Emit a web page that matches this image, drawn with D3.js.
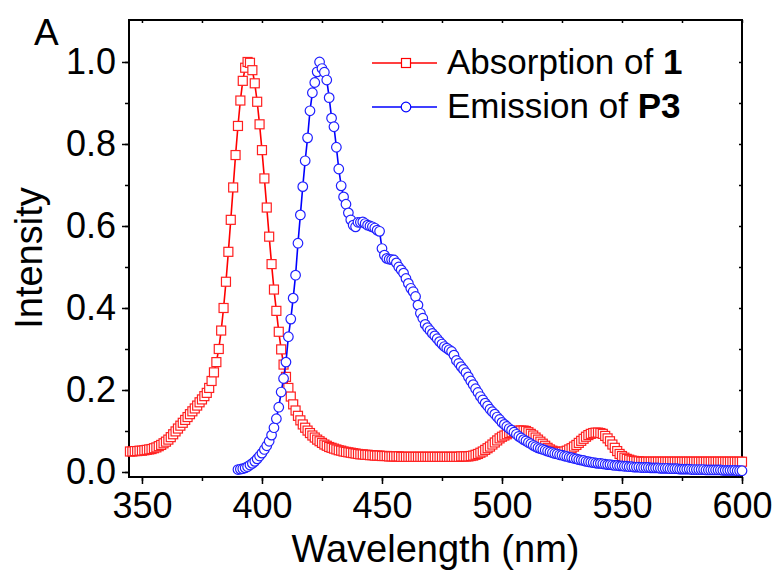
<!doctype html>
<html lang="en">
<head>
<meta charset="utf-8">
<title>Absorption / Emission</title>
<script src="https://cdn.jsdelivr.net/npm/d3@7"></script>
<style>
  body { margin: 0; background: #fff; }
  text { font-family: "Liberation Sans", Arial, sans-serif; }
</style>
</head>
<body>
<div id="chart"></div>
<script>
// absorption of 1, one point per nm from 345 nm
var absStart = 345;
var absValues = [
  0.050, 0.050, 0.051, 0.051, 0.052, 0.052, 0.053, 0.054, 0.055, 0.056, // 345-354
  0.058, 0.060, 0.063, 0.066, 0.070, 0.074, 0.079, 0.085, 0.092, 0.099, // 355-364
  0.106, 0.113, 0.120, 0.127, 0.134, 0.141, 0.148, 0.155, 0.162, 0.170, // 365-374
  0.177, 0.185, 0.193, 0.205, 0.222, 0.243, 0.268, 0.300, 0.345, 0.400, // 375-384
  0.464, 0.537, 0.615, 0.694, 0.773, 0.844, 0.906, 0.954, 0.986, 1.000, // 385-394
  0.998, 0.980, 0.948, 0.903, 0.848, 0.785, 0.716, 0.645, 0.574, 0.507, // 395-404
  0.445, 0.393, 0.342, 0.299, 0.262, 0.232, 0.205, 0.184, 0.165, 0.150, // 405-414
  0.137, 0.126, 0.116, 0.108, 0.101, 0.095, 0.089, 0.084, 0.079, 0.075, // 415-424
  0.071, 0.067, 0.064, 0.061, 0.059, 0.057, 0.055, 0.053, 0.052, 0.050, // 425-434
  0.049, 0.048, 0.047, 0.046, 0.045, 0.044, 0.043, 0.043, 0.042, 0.042, // 435-444
  0.041, 0.041, 0.040, 0.040, 0.040, 0.039, 0.039, 0.039, 0.038, 0.038, // 445-454
  0.038, 0.038, 0.038, 0.037, 0.037, 0.037, 0.037, 0.037, 0.037, 0.037, // 455-464
  0.037, 0.037, 0.037, 0.037, 0.037, 0.037, 0.037, 0.037, 0.037, 0.037, // 465-474
  0.037, 0.037, 0.037, 0.037, 0.037, 0.037, 0.037, 0.037, 0.038, 0.038, // 475-484
  0.038, 0.038, 0.039, 0.040, 0.042, 0.044, 0.047, 0.050, 0.054, 0.058, // 485-494
  0.062, 0.067, 0.072, 0.077, 0.082, 0.086, 0.089, 0.092, 0.095, 0.097, // 495-504
  0.099, 0.100, 0.101, 0.101, 0.101, 0.100, 0.097, 0.093, 0.089, 0.084, // 505-514
  0.079, 0.074, 0.069, 0.064, 0.059, 0.055, 0.052, 0.050, 0.049, 0.048, // 515-524
  0.049, 0.050, 0.052, 0.055, 0.058, 0.062, 0.066, 0.071, 0.076, 0.081, // 525-534
  0.086, 0.090, 0.093, 0.095, 0.096, 0.096, 0.095, 0.093, 0.088, 0.082, // 535-544
  0.075, 0.067, 0.059, 0.051, 0.044, 0.039, 0.035, 0.032, 0.030, 0.028, // 545-554
  0.027, 0.026, 0.026, 0.025, 0.025, 0.025, 0.025, 0.025, 0.025, 0.025, // 555-564
  0.025, 0.025, 0.025, 0.025, 0.025, 0.025, 0.025, 0.025, 0.025, 0.025, // 565-574
  0.025, 0.025, 0.025, 0.025, 0.025, 0.025, 0.025, 0.025, 0.025, 0.025, // 575-584
  0.025, 0.025, 0.025, 0.025, 0.025, 0.025, 0.025, 0.025, 0.025, 0.025, // 585-594
  0.025, 0.025, 0.025, 0.025, 0.025, 0.025                              // 595-600
];

// emission of P3, one point per nm from 390 nm
var emStart = 390;
var emValues = [
  0.006, 0.007, 0.008, 0.010, 0.013, 0.017, 0.021, 0.026, 0.032, 0.039, // 390-399
  0.046, 0.055, 0.064, 0.075, 0.090, 0.108, 0.130, 0.158, 0.195, 0.228, // 400-409
  0.268, 0.330, 0.373, 0.424, 0.480, 0.558, 0.627, 0.696, 0.759, 0.815, // 410-419
  0.881, 0.925, 0.950, 0.976, 1.000, 0.984, 0.975, 0.956, 0.913, 0.863, // 420-429
  0.842, 0.792, 0.739, 0.698, 0.671, 0.653, 0.632, 0.615, 0.602, 0.598, // 430-439
  0.609, 0.609, 0.610, 0.606, 0.602, 0.600, 0.598, 0.595, 0.590, 0.587, // 440-449
  0.545, 0.529, 0.521, 0.519, 0.518, 0.517, 0.510, 0.500, 0.493, 0.485, // 450-459
  0.472, 0.460, 0.448, 0.440, 0.428, 0.407, 0.387, 0.375, 0.360, 0.352, // 460-469
  0.345, 0.338, 0.332, 0.325, 0.318, 0.312, 0.306, 0.302, 0.298, 0.294, // 470-479
  0.285, 0.272, 0.265, 0.257, 0.250, 0.242, 0.232, 0.222, 0.213, 0.203, // 480-489
  0.194, 0.184, 0.176, 0.168, 0.161, 0.153, 0.147, 0.141, 0.134, 0.128, // 490-499
  0.121, 0.116, 0.111, 0.106, 0.102, 0.097, 0.092, 0.087, 0.083, 0.079, // 500-509
  0.076, 0.072, 0.069, 0.065, 0.062, 0.059, 0.057, 0.055, 0.053, 0.051, // 510-519
  0.049, 0.047, 0.045, 0.044, 0.042, 0.041, 0.039, 0.038, 0.036, 0.035, // 520-529
  0.033, 0.032, 0.030, 0.029, 0.028, 0.026, 0.025, 0.024, 0.023, 0.022, // 530-539
  0.021, 0.021, 0.020, 0.019, 0.018, 0.018, 0.017, 0.016, 0.016, 0.015, // 540-549
  0.015, 0.014, 0.014, 0.013, 0.013, 0.012, 0.012, 0.012, 0.011, 0.011, // 550-559
  0.011, 0.011, 0.010, 0.010, 0.010, 0.010, 0.009, 0.009, 0.009, 0.009, // 560-569
  0.008, 0.008, 0.008, 0.008, 0.007, 0.007, 0.007, 0.007, 0.007, 0.006, // 570-579
  0.006, 0.006, 0.006, 0.006, 0.006, 0.005, 0.005, 0.005, 0.005, 0.005, // 580-589
  0.005, 0.005, 0.004, 0.004, 0.004, 0.004, 0.004, 0.004, 0.003, 0.003, // 590-599
  0.003                                                                 // 600
];

var xTicks = [350, 400, 450, 500, 550, 600];
var yTicks = [0.0, 0.2, 0.4, 0.6, 0.8, 1.0];
var legendNames = [["Absorption of ", "1"], ["Emission of ", "P3"]];

var width = 778, height = 577;
var mLeft = 129, mRight = 742, mTop = 20, mBottom = 477;

var svg = d3.select("#chart").append("svg")
    .attr("width", width)
    .attr("height", height);

var x = d3.scaleLinear().domain([344.6, 600]).range([mLeft, mRight]);
var y = d3.scaleLinear().domain([-0.0122, 1.1024]).range([mBottom, mTop]);

var absData = absValues.map(function (v, i) { return { wl: absStart + i, v: v }; });
var emData = emValues.map(function (v, i) { return { wl: emStart + i, v: v }; });

var xMinor = d3.range(350, 601, 25);
var yMinor = d3.range(0, 1.05, 0.1);

// ticks: bottom/left outward, top/right inward
svg.append("g")
    .attr("transform", "translate(0," + mBottom + ")")
    .call(d3.axisBottom(x).tickValues(xMinor).tickSize(4).tickFormat(""))
    .call(function (g) { g.select(".domain").remove(); });
svg.append("g")
    .attr("transform", "translate(0," + mBottom + ")")
    .call(d3.axisBottom(x).tickValues(xTicks).tickSize(7).tickPadding(8).tickFormat(d3.format("d")))
    .call(function (g) { g.select(".domain").remove(); })
    .selectAll("text").attr("font-size", 36).attr("fill", "#000");

svg.append("g")
    .attr("transform", "translate(" + mLeft + ",0)")
    .call(d3.axisLeft(y).tickValues(yMinor).tickSize(4).tickFormat(""))
    .call(function (g) { g.select(".domain").remove(); });
svg.append("g")
    .attr("transform", "translate(" + mLeft + ",0)")
    .call(d3.axisLeft(y).tickValues(yTicks).tickSize(7).tickPadding(6).tickFormat(d3.format(".1f")))
    .call(function (g) { g.select(".domain").remove(); })
    .selectAll("text").attr("font-size", 36).attr("fill", "#000");

svg.append("g")
    .attr("transform", "translate(0," + mTop + ")")
    .call(d3.axisBottom(x).tickValues(xMinor).tickSize(3).tickFormat(""))
    .call(function (g) { g.select(".domain").remove(); });
svg.append("g")
    .attr("transform", "translate(" + mRight + ",0)")
    .call(d3.axisLeft(y).tickValues(yMinor).tickSize(3).tickFormat(""))
    .call(function (g) { g.select(".domain").remove(); });

svg.selectAll(".tick line").attr("stroke", "#000").attr("stroke-width", 1.5);

svg.append("rect")
    .attr("x", mLeft).attr("y", mTop)
    .attr("width", mRight - mLeft).attr("height", mBottom - mTop)
    .attr("fill", "none").attr("stroke", "#000").attr("stroke-width", 2);

var plot = svg.append("g");
var line = d3.line().x(function (d) { return x(d.wl); }).y(function (d) { return y(d.v); });

plot.append("path").datum(absData)
    .attr("d", line).attr("fill", "none").attr("stroke", "#ff0000").attr("stroke-width", 1.6);
plot.selectAll(".sq").data(absData).enter().append("rect")
    .attr("x", function (d) { return x(d.wl) - 4.5; })
    .attr("y", function (d) { return y(d.v) - 4.5; })
    .attr("width", 9).attr("height", 9)
    .attr("fill", "#fff").attr("stroke", "#ff2020").attr("stroke-width", 1.2);

plot.append("path").datum(emData)
    .attr("d", line).attr("fill", "none").attr("stroke", "#0000ff").attr("stroke-width", 1.6);
plot.selectAll(".ci").data(emData).enter().append("circle")
    .attr("cx", function (d) { return x(d.wl); })
    .attr("cy", function (d) { return y(d.v); })
    .attr("r", 4.8)
    .attr("fill", "#fff").attr("stroke", "#2020ff").attr("stroke-width", 1.2);

// legend
var lg = svg.append("g");
[0, 1].forEach(function (i) {
    var ly = 63 + i * 44;
    var col = i === 0 ? "#ff0000" : "#0000ff";
    lg.append("line").attr("x1", 372).attr("x2", 437).attr("y1", ly).attr("y2", ly)
        .attr("stroke", col).attr("stroke-width", 1.6);
    if (i === 0) {
        lg.append("rect").attr("x", 401.5).attr("y", ly - 4.5).attr("width", 9).attr("height", 9)
            .attr("fill", "#fff").attr("stroke", col).attr("stroke-width", 1.2);
    } else {
        lg.append("circle").attr("cx", 406).attr("cy", ly).attr("r", 4.8)
            .attr("fill", "#fff").attr("stroke", col).attr("stroke-width", 1.2);
    }
    var t = lg.append("text").attr("x", 447).attr("y", ly + 11).attr("font-size", 35);
    t.append("tspan").text(legendNames[i][0]);
    t.append("tspan").attr("font-weight", "bold").text(legendNames[i][1]);
});

svg.append("text").attr("x", (mLeft + mRight) / 2).attr("y", 562)
    .attr("text-anchor", "middle").attr("font-size", 38).text("Wavelength (nm)");
svg.append("text").attr("transform", "translate(42,258) rotate(-90)")
    .attr("text-anchor", "middle").attr("font-size", 38).text("Intensity");
svg.append("text").attr("x", 34).attr("y", 45).attr("font-size", 37).text("A");
</script>
</body>
</html>
